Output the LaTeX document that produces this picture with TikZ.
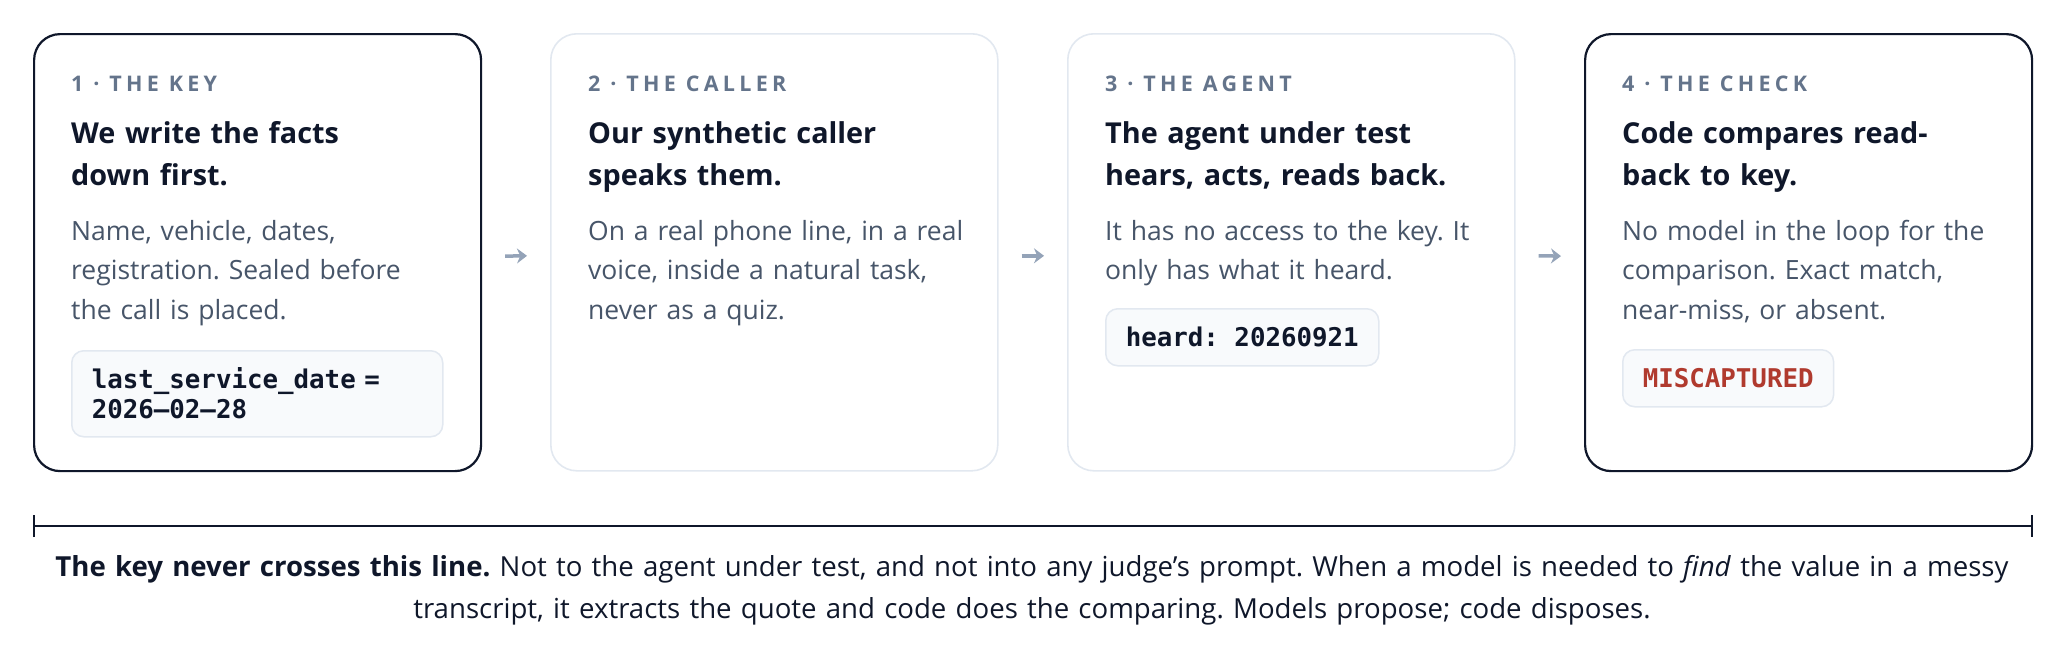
\documentclass[tikz,border=0pt]{standalone}
\usepackage{fontspec}
\setmainfont{Open Sans}
\newfontfamily\codefont{DejaVu Sans Mono}
\newfontfamily\labelfont[LetterSpace=20]{Open Sans}
\usetikzlibrary{arrows.meta,calc}
\definecolor{ink}{HTML}{0F172A}
\definecolor{bodyc}{HTML}{475569}
\definecolor{muted}{HTML}{64748B}
\definecolor{arrowc}{HTML}{94A3B8}
\definecolor{edge}{HTML}{E2E8F0}
\definecolor{codebg}{HTML}{F8FAFC}
\definecolor{miss}{HTML}{B03A2E}
\frenchspacing
\begin{document}
\begin{tikzpicture}[x=1pt,y=-1pt,
  card/.style={draw, rounded corners=26pt, minimum width=447pt, minimum height=437pt, anchor=north west, inner sep=0pt, fill=white},
  keycard/.style={card, draw=ink, line width=2.2pt},
  plaincard/.style={card, draw=edge, line width=1.6pt},
  lbl/.style={anchor=base west, inner sep=0pt, font=\labelfont\bfseries\fontsize{21.5}{24}\selectfont, text=muted},
  ttl/.style={anchor=base west, inner sep=0pt, text width=390pt, align=left, font=\bfseries\fontsize{28.8}{41.7}\selectfont, text=ink},
  bdy/.style={anchor=base west, inner sep=0pt, text width=390pt, align=left, font=\fontsize{26.5}{39.7}\selectfont, text=bodyc},
  codebox/.style={anchor=north west, draw=edge, line width=1.5pt, fill=codebg, rounded corners=12pt, inner xsep=20pt, inner ysep=0pt, minimum height=57pt, text height=19pt, text depth=0pt, font=\codefont\bfseries\fontsize{25.8}{30}\selectfont, text=ink},
  flow/.style={draw=arrowc, line width=3.5pt, -{Stealth[length=10pt,width=15pt]}},
  rule/.style={draw=ink, line width=2.2pt, {Bar[width=22pt]}-{Bar[width=22pt]}},
  foot/.style={anchor=base, inner sep=0pt, text width=2010pt, align=center, font=\fontsize{27.6}{42}\selectfont, text=ink}
]
\useasboundingbox (0,0) rectangle (2064,657);

% cards
\node[keycard]   (c1) at (33,33) {};
\node[plaincard] (c2) at (550,33) {};
\node[plaincard] (c3) at (1067,33) {};
\node[keycard]   (c4) at (1584,33) {};

% card 1
\node[lbl] (l1) at (71,91) {1 · THE KEY};
\node[ttl] (t1) at (71,143.3) {We write the facts\\down first.};
\node[bdy] (b1) at (71,240) {Name, vehicle, dates,\\registration. Sealed before\\the call is placed.};
\node[codebox, text width=331pt, align=left, minimum height=86pt, text depth=30pt] (k1) at (71,350) {last\_service\_date =\\2026–02–28};

% card 2
\node[lbl] (l2) at (588,91) {2 · THE CALLER};
\node[ttl] (t2) at (588,143.3) {Our synthetic caller\\speaks them.};
\node[bdy] (b2) at (588,240) {On a real phone line, in a real\\voice, inside a natural task,\\never as a quiz.};

% card 3
\node[lbl] (l3) at (1105,91) {3 · THE AGENT};
\node[ttl] (t3) at (1105,143.3) {The agent under test\\hears, acts, reads back.};
\node[bdy] (b3) at (1105,240) {It has no access to the key. It\\only has what it heard.};
\node[codebox] (k3) at (1105,308) {heard: 20260921};

% card 4
\node[lbl] (l4) at (1622,91) {4 · THE CHECK};
\node[ttl] (t4) at (1622,143.3) {Code compares read-\\back to key.};
\node[bdy] (b4) at (1622,240) {No model in the loop for the\\comparison. Exact match,\\near-miss, or absent.};
\node[codebox, text=miss] (k4) at (1622,349) {MISCAPTURED};

% arrows between cards
\draw[flow] ($(c1.east)+(23,3.5)$) -- ($(c2.west)+(-23,3.5)$);
\draw[flow] ($(c2.east)+(23,3.5)$) -- ($(c3.west)+(-23,3.5)$);
\draw[flow] ($(c3.east)+(23,3.5)$) -- ($(c4.west)+(-23,3.5)$);

% boundary line
\coordinate (L) at ($(c1.south west)+(0,54)$);
\coordinate (R) at ($(c4.south east)+(0,54)$);
\draw[rule] (L) -- (R);

% footnote
\node[foot] (note) at (1032,576) {\textbf{The key never crosses this line.} Not to the agent under test, and not into any judge’s prompt. When a model is needed to \textit{find} the value in a messy\\transcript, it extracts the quote and code does the comparing. Models propose; code disposes.};
\end{tikzpicture}
\end{document}
